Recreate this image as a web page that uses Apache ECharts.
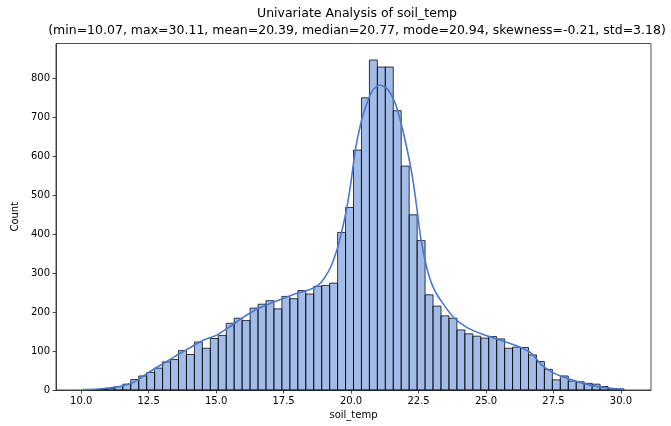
<!DOCTYPE html>
<html>
<head>
<meta charset="utf-8">
<title>Univariate Analysis of soil_temp</title>
<script src="https://cdn.jsdelivr.net/npm/echarts@6/dist/echarts.min.js"></script>
<style>
  html, body { margin: 0; padding: 0; background: #fff; }
  #chart { width: 671px; height: 426px; }
</style>
</head>
<body>
<div id="chart"></div>
<script>
// soil_temp histogram: 68 equal-width bins between the observed min and max
const dataMin = 10.07;
const dataMax = 30.11;
const binCounts = [
  1, 1, 2, 4, 9, 15, 27, 36, 45, 56,
  72, 78, 101, 91, 123, 107, 132, 140, 171, 184,
  178, 210, 220, 229, 208, 240, 234, 255, 246, 266,
  268, 274, 404, 468, 615, 749, 846, 828, 828, 716,
  574, 449, 383, 244, 215, 190, 184, 154, 144, 138,
  133, 137, 131, 107, 110, 109, 90, 73, 53, 26,
  36, 23, 21, 17, 15, 9, 4, 3
];

// density estimate, scaled to counts
const kdeX = [
  10.07, 10.5, 11.0, 11.5, 12.0, 12.5, 13.0, 13.5, 14.0, 14.5,
  15.0, 15.5, 16.0, 16.5, 17.0, 17.5, 18.0, 18.5, 18.8, 19.0,
  19.25, 19.5, 19.7, 19.85, 20.0, 20.15, 20.3, 20.46, 20.77, 21.07,
  21.38, 21.69, 22.0, 22.25, 22.43, 22.58, 22.75, 22.9, 23.1, 23.4,
  23.8, 24.3, 24.9, 25.5, 26.1, 26.6, 26.8, 27.1, 27.5, 28.0,
  28.6, 29.2, 29.7, 30.11
];
const kdeY = [
  1, 2, 5, 10, 22, 45, 66, 87, 107, 127,
  140, 162, 186, 207, 222, 235, 248, 258, 270, 286,
  316, 365, 420, 470, 535, 612, 665, 709, 765, 782,
  769, 724, 641, 556, 470, 390, 330, 290, 255, 222,
  186, 160, 142, 128, 114, 98, 85, 62, 44, 30,
  17, 8, 4, 2
];

const xTicks = [10.0, 12.5, 15.0, 17.5, 20.0, 22.5, 25.0, 27.5, 30.0];
const yTicks = [0, 100, 200, 300, 400, 500, 600, 700, 800];

const titleText = 'Univariate Analysis of soil_temp\n' +
  '(min=10.07, max=30.11, mean=20.39, median=20.77, mode=20.94, skewness=-0.21, std=3.18)';

// axis limits with a 5% margin around the data, count axis from zero
const xSpan = dataMax - dataMin;
const xLo = dataMin - 0.05 * xSpan;
const xHi = dataMax + 0.05 * xSpan;
const yHi = Math.max.apply(null, binCounts) * 1.05;

const binWidth = xSpan / binCounts.length;
const barData = binCounts.map((c, i) => [dataMin + i * binWidth, dataMin + (i + 1) * binWidth, c]);
const kdeData = kdeX.map((x, i) => [x, kdeY[i]]);

const font = 'DejaVu Sans';
const chart = echarts.init(document.getElementById('chart'), null, { renderer: 'canvas' });

chart.setOption({
  animation: false,
  backgroundColor: '#fff',
  title: {
    text: titleText,
    left: 352,
    top: 0,
    textAlign: 'center',
    textStyle: { fontFamily: font, fontSize: 12.5, fontWeight: 'normal', color: '#000', lineHeight: 17 }
  },
  grid: {
    left: 56, right: 20, top: 43.5, bottom: 36,
    show: true, borderColor: '#222', borderWidth: 0.8, backgroundColor: 'transparent'
  },
  xAxis: {
    type: 'value',
    min: xLo,
    max: xHi,
    name: 'soil_temp',
    nameLocation: 'middle',
    nameGap: 19,
    nameTextStyle: { fontFamily: font, fontSize: 10, color: '#000' },
    axisLine: { show: true, lineStyle: { color: '#222', width: 0.8 } },
    axisTick: { show: true, length: 3.5, lineStyle: { color: '#222', width: 0.8 }, customValues: xTicks },
    axisLabel: {
      fontFamily: font, fontSize: 10, color: '#000', margin: 6,
      customValues: xTicks,
      formatter: v => v.toFixed(1)
    },
    splitLine: { show: false }
  },
  yAxis: {
    type: 'value',
    min: 0,
    max: yHi,
    name: 'Count',
    nameLocation: 'middle',
    nameGap: 33,
    nameTextStyle: { fontFamily: font, fontSize: 10, color: '#000' },
    axisLine: { show: true, lineStyle: { color: '#222', width: 0.8 } },
    axisTick: { show: true, length: 3.5, lineStyle: { color: '#222', width: 0.8 }, customValues: yTicks },
    axisLabel: {
      fontFamily: font, fontSize: 10, color: '#000', margin: 6,
      customValues: yTicks
    },
    splitLine: { show: false }
  },
  series: [
    {
      type: 'custom',
      name: 'count',
      data: barData,
      encode: { x: [0, 1], y: 2 },
      renderItem: function (params, api) {
        const p0 = api.coord([api.value(0), api.value(2)]);
        const p1 = api.coord([api.value(1), 0]);
        return {
          type: 'rect',
          shape: { x: p0[0], y: p0[1], width: p1[0] - p0[0], height: p1[1] - p0[1] },
          style: { fill: 'rgba(72,120,208,0.5)', stroke: 'rgba(0,0,0,0.85)', lineWidth: 0.9 }
        };
      },
      z: 2
    },
    {
      type: 'line',
      name: 'kde',
      data: kdeData,
      smooth: 0.25,
      showSymbol: false,
      symbol: 'none',
      lineStyle: { color: '#4878d0', width: 1.6 },
      z: 3
    }
  ]
});
</script>
</body>
</html>
